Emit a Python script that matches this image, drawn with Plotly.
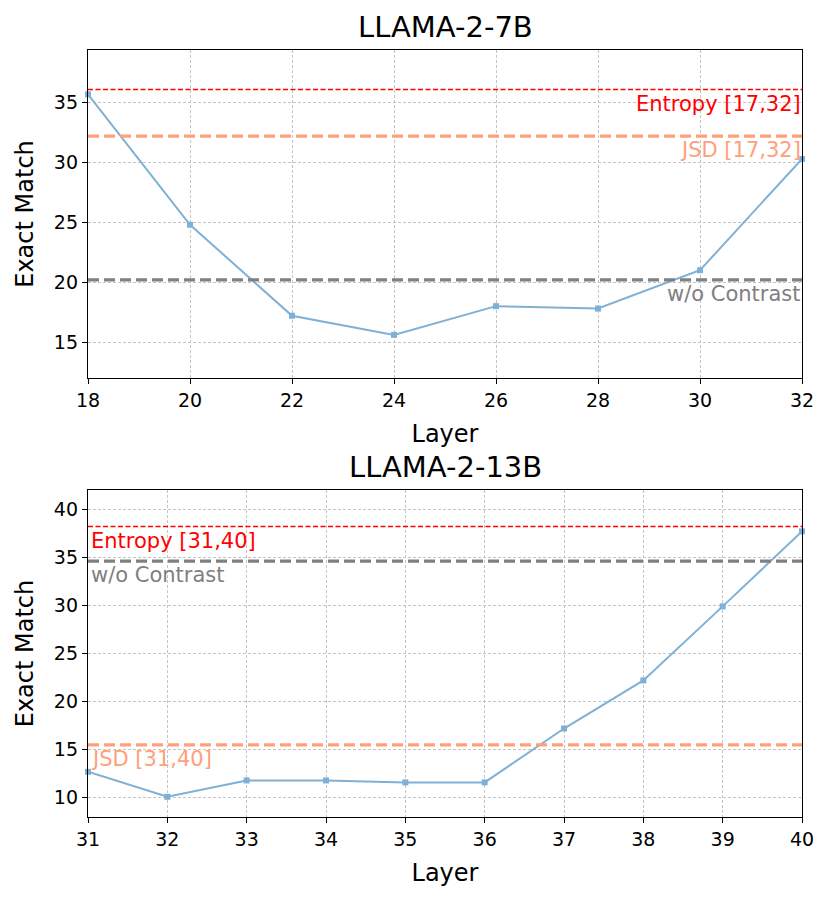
import plotly.graph_objects as go
from plotly.subplots import make_subplots

# LLAMA-2-7B
layers_7b = [18, 20, 22, 24, 26, 28, 30, 32]
em_7b = [35.7, 24.8, 17.2, 15.6, 18.0, 17.8, 21.0, 30.3]
entropy_7b = 36.1
jsd_7b = 32.2
base_7b = 20.2

# LLAMA-2-13B
layers_13b = [31, 32, 33, 34, 35, 36, 37, 38, 39, 40]
em_13b = [12.7, 10.1, 11.8, 11.8, 11.6, 11.6, 17.2, 22.2, 29.9, 37.7]
entropy_13b = 38.2
jsd_13b = 15.5
base_13b = 34.6

FONT = "DejaVu Sans"
LINE_BLUE = "#7fb0d5"
RED = "#ff0000"
SALMON = "#ffa07a"
GRAY = "#808080"

fig = make_subplots(rows=2, cols=1)


def add_panel(fig, row, layers, em, entropy, jsd, base, tag, align_right):
    xs = [layers[0], layers[-1]]
    fig.add_trace(go.Scatter(x=layers, y=em, mode='lines+markers',
                             line=dict(color=LINE_BLUE, width=2),
                             marker=dict(symbol='square', size=6, color=LINE_BLUE),
                             cliponaxis=False, showlegend=False), row=row, col=1)
    hlines = [
        (entropy, RED, 1.6, "5px,2.5px", f"Entropy {tag}"),
        (jsd, SALMON, 3.2, "11px,5px", f"JSD {tag}"),
        (base, GRAY, 3.2, "11px,5px", "w/o Contrast"),
    ]
    xref = 'x' if row == 1 else 'x2'
    yref = 'y' if row == 1 else 'y2'
    for val, color, width, dash, label in hlines:
        fig.add_trace(go.Scatter(x=xs, y=[val, val], mode='lines',
                                 line=dict(color=color, width=width, dash=dash),
                                 showlegend=False, hoverinfo='skip'), row=row, col=1)
        fig.add_annotation(x=xs[1] if align_right else xs[0], y=val,
                           xref=xref, yref=yref,
                           text=label, showarrow=False,
                           xanchor='right' if align_right else 'left',
                           yanchor='top', xshift=1, yshift=0,
                           font=dict(family=FONT, size=21, color=color))


add_panel(fig, 1, layers_7b, em_7b, entropy_7b, jsd_7b, base_7b, "[17,32]", True)
add_panel(fig, 2, layers_13b, em_13b, entropy_13b, jsd_13b, base_13b, "[31,40]", False)

titles = ["LLAMA-2-7B", "LLAMA-2-13B"]
for i, t in enumerate(titles):
    sfx = '' if i == 0 else '2'
    fig.add_annotation(x=0.5, y=1, xref=f'x{sfx} domain', yref=f'y{sfx} domain',
                       text=t, showarrow=False, xanchor='center', yanchor='bottom',
                       yshift=4, font=dict(family=FONT, size=29, color='black'))

axis_common = dict(showline=True, linecolor='black', linewidth=1.3, mirror=True,
                   ticks='outside', ticklen=5, tickcolor='black',
                   showgrid=True, gridcolor='#c4c4c4', gridwidth=0.8, griddash='3px,2px',
                   zeroline=False, tickfont=dict(family=FONT, size=19, color='black'))

fig.update_xaxes(**axis_common)
fig.update_yaxes(**axis_common)

label_font = dict(family=FONT, size=24, color='black')
fig.update_xaxes(range=[18, 32], dtick=2, title=dict(text="Layer", standoff=15, font=label_font),
                 row=1, col=1)
fig.update_xaxes(range=[31, 40], dtick=1, title=dict(text="Layer", standoff=15, font=label_font),
                 row=2, col=1)
fig.update_yaxes(range=[12, 39.4], tickvals=[15, 20, 25, 30, 35],
                 title=dict(text="Exact Match", standoff=13, font=label_font), row=1, col=1)
fig.update_yaxes(range=[8, 42], tickvals=[10, 15, 20, 25, 30, 35, 40],
                 title=dict(text="Exact Match", standoff=13, font=label_font), row=2, col=1)

fig.update_layout(
    width=830, height=900,
    margin=dict(l=80, r=36, t=42, b=91),
    plot_bgcolor='white', paper_bgcolor='white',
    xaxis=dict(domain=[0, 1]),
    yaxis=dict(domain=[0.5724, 1]),
    xaxis2=dict(domain=[0, 1]),
    yaxis2=dict(domain=[0, 0.4263]),
    showlegend=False,
)

fig.write_html("out.html")
